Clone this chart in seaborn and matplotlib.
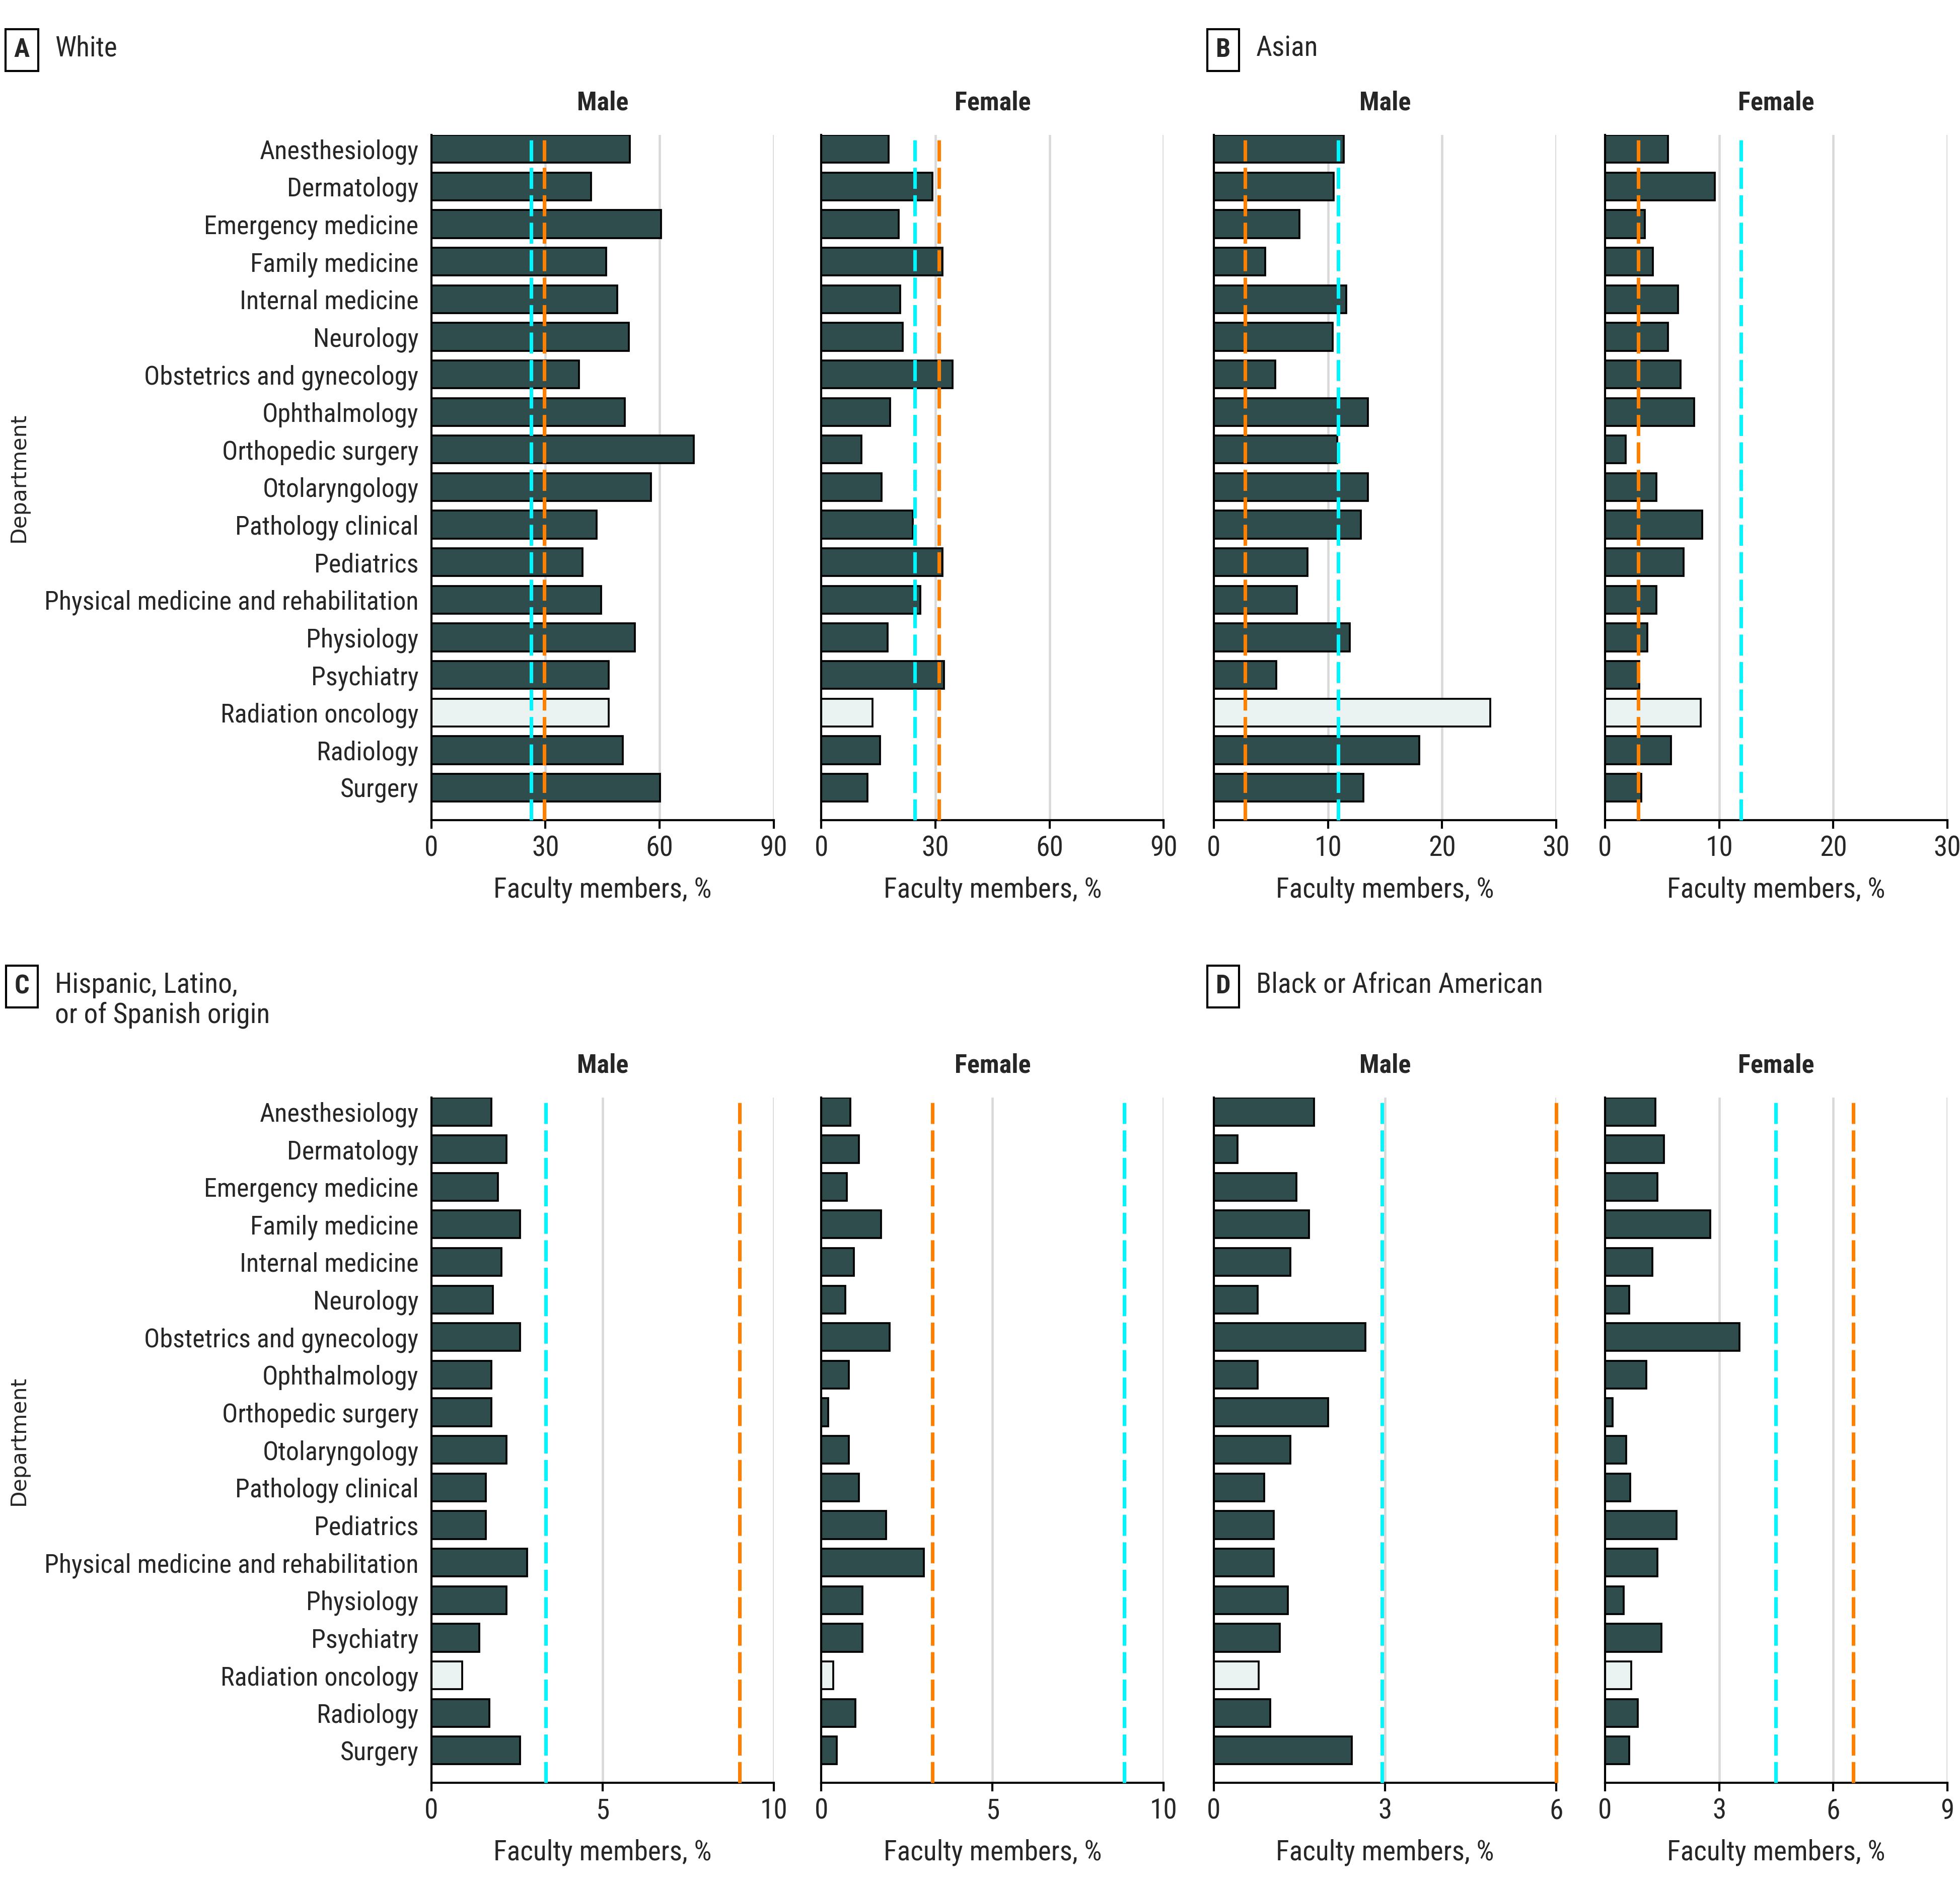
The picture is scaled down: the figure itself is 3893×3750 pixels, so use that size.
import numpy as np
import pandas as pd
import matplotlib
matplotlib.use("Agg")
import matplotlib.pyplot as plt
from matplotlib import font_manager as fm
import seaborn as sns

departments = [
    "Anesthesiology", "Dermatology", "Emergency medicine", "Family medicine",
    "Internal medicine", "Neurology", "Obstetrics and gynecology", "Ophthalmology",
    "Orthopedic surgery", "Otolaryngology", "Pathology clinical", "Pediatrics",
    "Physical medicine and rehabilitation", "Physiology", "Psychiatry",
    "Radiation oncology", "Radiology", "Surgery",
]
highlight = "Radiation oncology"

# Panel A - White
white_male = [52.2, 42.0, 60.4, 46.0, 48.9, 51.9, 38.8, 50.9, 69.0, 57.8,
              43.4, 39.7, 44.7, 53.5, 46.6, 46.6, 50.3, 60.1]
white_female = [17.7, 29.2, 20.4, 31.9, 20.7, 21.4, 34.5, 18.1, 10.5, 15.8,
                24.0, 31.9, 26.0, 17.4, 32.2, 13.5, 15.4, 12.2]
# Panel B - Asian
asian_male = [11.4, 10.5, 7.5, 4.5, 11.6, 10.4, 5.4, 13.5, 10.8, 13.5,
              12.9, 8.2, 7.3, 11.9, 5.5, 24.2, 18.0, 13.1]
asian_female = [5.5, 9.6, 3.5, 4.2, 6.4, 5.5, 6.6, 7.8, 1.8, 4.5,
                8.5, 6.9, 4.5, 3.7, 3.0, 8.4, 5.8, 3.2]
# Panel C - Hispanic
hisp_male = [1.75, 2.2, 1.95, 2.6, 2.05, 1.8, 2.6, 1.75, 1.75, 2.2,
             1.6, 1.6, 2.8, 2.2, 1.4, 0.9, 1.7, 2.6]
hisp_female = [0.85, 1.1, 0.75, 1.75, 0.95, 0.7, 2.0, 0.8, 0.2, 0.8,
               1.1, 1.9, 3.0, 1.2, 1.2, 0.35, 1.0, 0.45]
# Panel D - Black
black_male = [1.76, 0.42, 1.45, 1.67, 1.34, 0.77, 2.66, 0.77, 2.0, 1.34,
              0.88, 1.05, 1.05, 1.3, 1.16, 0.79, 0.99, 2.42]
black_female = [1.32, 1.55, 1.38, 2.77, 1.25, 0.63, 3.53, 1.09, 0.2, 0.56,
                0.66, 1.88, 1.38, 0.49, 1.48, 0.69, 0.86, 0.63]

# reference lines (cyan, orange) per subplot
ref_cyan = {"A_m": 26.2, "A_f": 24.6, "B_m": 10.9, "B_f": 11.9,
            "C_m": 3.35, "C_f": 8.85, "D_m": 2.95, "D_f": 4.48}
ref_orange = {"A_m": 29.7, "A_f": 30.9, "B_m": 2.75, "B_f": 2.9,
              "C_m": 9.0, "C_f": 3.25, "D_m": 6.0, "D_f": 6.53}

panels = [
    ("A", "White", white_male, white_female, [0, 30, 60, 90]),
    ("B", "Asian", asian_male, asian_female, [0, 10, 20, 30]),
    ("C", "Hispanic, Latino,\nor of Spanish origin", hisp_male, hisp_female, [0, 5, 10]),
    ("D", "Black or African American", black_male, black_female, None),
]


def pick_font():
    # look for a narrow sans face; fall back to a smaller DejaVu Sans
    for fam in ["Liberation Sans Narrow", "Roboto Condensed", "Open Sans Condensed",
                "Noto Sans Condensed", "DejaVu Sans Condensed", "Arial Narrow"]:
        try:
            fm.findfont(fm.FontProperties(family=fam), fallback_to_default=False)
            return fam, None, 1.0
        except Exception:
            pass
    for fam in ["DejaVu Sans", "Noto Sans", "Open Sans", "Roboto"]:
        path = fm.findfont(fm.FontProperties(family=fam, stretch="condensed"))
        if "Condensed" in path or "Narrow" in path:
            return fam, "condensed", 1.0
    return "DejaVu Sans", None, 0.82


FAMILY, STRETCH, SCALE = pick_font()
FS_Y = 12.5 * SCALE      # department labels, column titles
FS_X = 13.3 * SCALE      # x ticks and x labels
FS_T = 13.3 * SCALE      # panel titles

sns.set_style("white")
plt.rcParams["font.family"] = [FAMILY, "DejaVu Sans"]
if STRETCH:
    plt.rcParams["font.stretch"] = STRETCH
plt.rcParams["font.size"] = FS_Y

DARK = "#2a5252"
LIGHT = "#eaf3f3"
CYAN = "#00f5ff"
ORANGE = "#ff8000"

W, H = 1568, 1510
fig = plt.figure(figsize=(3893 / 300, 3750 / 300), dpi=300)

lefts = [345, 657, 971, 1284]
row_tops = [108, 878]
ax_w, ax_h = 274, 548


def draw(ax, values, ticks, key, show_labels):
    df = pd.DataFrame({"dept": departments, "value": values})
    df["kind"] = np.where(df["dept"] == highlight, "hl", "base")
    sns.barplot(data=df, x="value", y="dept", hue="kind", order=departments,
                palette={"base": DARK, "hl": LIGHT}, dodge=False, legend=False,
                width=0.74, edgecolor="black", linewidth=0.9, ax=ax, zorder=2)
    ax.set_xlim(ticks[0], ticks[-1])
    ax.set_ylim(17.865, -0.368)
    ax.set_xticks(ticks)
    ax.set_xticklabels([str(t) for t in ticks])
    ax.set_axisbelow(True)
    ax.xaxis.grid(True, color="#d9d9d9", linewidth=1.1)
    ax.yaxis.grid(False)
    for g, t in zip(ax.xaxis.get_gridlines(), ticks):
        if t == 0:
            g.set_visible(False)
    for s in ["top", "right"]:
        ax.spines[s].set_visible(False)
    for s in ["left", "bottom"]:
        ax.spines[s].set_color("black")
        ax.spines[s].set_linewidth(1.0)
    ax.tick_params(axis="x", bottom=True, length=4, width=1.0, color="black",
                   labelsize=FS_X, pad=3)
    ax.tick_params(axis="y", left=False, length=0, pad=6, labelsize=FS_Y)
    if not show_labels:
        ax.set_yticklabels([])
    ax.set_ylabel("")
    ax.set_xlabel("Faculty members, %", fontsize=FS_X, labelpad=7)
    ax.axvline(ref_cyan[key], color=CYAN, linewidth=1.7, dashes=(5.9, 1.8),
               zorder=4, clip_on=False)
    ax.axvline(ref_orange[key], color=ORANGE, linewidth=1.7, dashes=(5.9, 1.8),
               zorder=4, clip_on=False)


for i, (letter, title, male, female, ticks) in enumerate(panels):
    row = i // 2
    col = i % 2
    top = row_tops[row]
    for j, (vals, sex) in enumerate([(male, "Male"), (female, "Female")]):
        left = lefts[col * 2 + j]
        ax = fig.add_axes([left / W, 1 - (top + ax_h) / H, ax_w / W, ax_h / H])
        if ticks is None:
            tk = [0, 3, 6] if sex == "Male" else [0, 3, 6, 9]
        else:
            tk = ticks
        draw(ax, vals, tk, f"{letter}_{sex[0].lower()}", col == 0 and j == 0)
        ax.set_title(sex, fontsize=FS_Y, fontweight="bold", pad=12)
    # panel label
    lx = 5 if col == 0 else 966
    ly = 40 if row == 0 else 789
    fig.text((lx + 12.5) / W, 1 - ly / H, letter, fontsize=FS_Y, fontweight="bold",
             ha="center", va="center",
             bbox=dict(boxstyle="square,pad=0.32", fc="white", ec="black", lw=1.0))
    fig.text((lx + 39) / W, 1 - (ly - 12) / H, title, fontsize=FS_T, ha="left", va="top",
             linespacing=1.15)

for row, top in enumerate(row_tops):
    fig.text(15 / W, 1 - (top + ax_h / 2) / H, "Department", rotation=90,
             fontsize=10.2, family="DejaVu Sans", stretch="normal",
             ha="center", va="center")

fig.savefig("out.png", dpi=300, facecolor="white")
